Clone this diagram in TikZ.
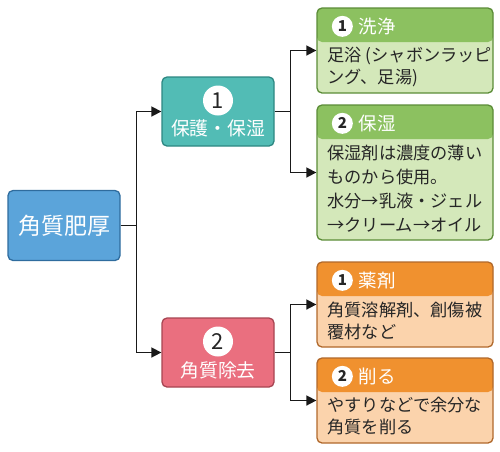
\documentclass[tikz,border=0pt]{standalone}
\usepackage{fontspec}
\setmainfont{Noto Sans CJK JP}
\usetikzlibrary{positioning,arrows.meta,decorations.markings}
\definecolor{rootbl}{HTML}{5BA4DA}
\definecolor{rootln}{HTML}{2F6C9E}
\definecolor{protbl}{HTML}{52BCB5}
\definecolor{protln}{HTML}{2D8782}
\definecolor{rempk}{HTML}{EA6F7F}
\definecolor{remln}{HTML}{A74552}
\definecolor{grnhd}{HTML}{8CC160}
\definecolor{grnbd}{HTML}{D4E8BA}
\definecolor{grnln}{HTML}{5B8C37}
\definecolor{orghd}{HTML}{F0912F}
\definecolor{orgbd}{HTML}{FBD3AC}
\definecolor{orgln}{HTML}{B0682B}
\tikzset{->/.style = {decoration={markings, mark=at position 1 with {\arrow{Triangle[length=10pt,width=10pt]}}}, postaction={decorate}}}
\tikzset{circ/.style = {circle, fill=white, text=black!85, inner sep=0}}

\begin{document}
\begin{tikzpicture}[x=1pt,y=-1pt,
    link/.style={line width=1.6pt, black!90},
    cat/.style={draw, line width=1.3pt, rounded corners=5pt,
        minimum width=112pt, minimum height=69pt, inner sep=0, text=white},
    cattxt/.style={text=white, inner sep=0, font={\fontsize{18.8pt}{22pt}\selectfont}},
    bignum/.style={circ, minimum size=30pt, font={\fontsize{22pt}{24pt}\selectfont}},
    smallnum/.style={circ, minimum size=21pt, font={\fontsize{15pt}{17pt}\selectfont\bfseries}},
    item/.style={draw=#1ln, fill=#1bd, line width=1.3pt, rounded corners=5pt,
        minimum width=176pt, inner sep=0,
        path picture={\fill[#1hd] (path picture bounding box.north west)
            rectangle ([yshift=-34pt]path picture bounding box.north east);}},
    headtxt/.style={text=white, inner sep=0, anchor=west,
        font={\fontsize{18.5pt}{20pt}\selectfont}},
    bodytxt/.style={text=black!85, inner sep=0, anchor=north west, align=left,
        font={\fontsize{17.2pt}{22pt}\selectfont}},
    ]
    \useasboundingbox (0,0) rectangle (500,451);

    % Root
    \node[cat, fill=rootbl, draw=rootln, minimum height=70pt,
        font={\fontsize{23pt}{26pt}\selectfont}] (root) at (64,225.5) {角質肥厚};

    % Categories
    \node[cat, fill=protbl, draw=protln] (prot) at (218,111.5) {};
    \node[bignum] (prot-no) at ([yshift=11pt]prot.center) {1};
    \node[cattxt] (prot-t) at ([yshift=-16.5pt]prot.center) {保護・保湿};

    \node[cat, fill=rempk, draw=remln] (rem) at (218,352.5) {};
    \node[bignum] (rem-no) at ([yshift=11pt]rem.center) {2};
    \node[cattxt] (rem-t) at ([yshift=-17.5pt]rem.center) {角質除去};

    % Green items
    \node[item=grn, minimum height=85pt] (wash) at (405,50.5) {};
    \node[smallnum] (wash-no) at ([xshift=26pt,yshift=-19pt]wash.north west) {1};
    \node[headtxt] (wash-t) at ([xshift=42pt,yshift=-19pt]wash.north west) {洗浄};
    \node[bodytxt] (wash-b) at ([xshift=11pt,yshift=-40pt]wash.north west)
        {足浴 (シャボンラッピ\\ング、足湯)};

    \node[item=grn, minimum height=135pt] (moist) at (405,172.5) {};
    \node[smallnum] (moist-no) at ([xshift=26pt,yshift=-19pt]moist.north west) {2};
    \node[headtxt] (moist-t) at ([xshift=42pt,yshift=-19pt]moist.north west) {保湿};
    \node[bodytxt, font={\fontsize{17.2pt}{24pt}\selectfont}] (moist-b)
        at ([xshift=11pt,yshift=-40pt]moist.north west)
        {保湿剤は濃度の薄い\\ものから使用。\\水分→乳液・ジェル\\→クリーム→オイル};

    % Orange items
    \node[item=org, minimum height=85pt] (drug) at (405,304.5) {};
    \node[smallnum] (drug-no) at ([xshift=26pt,yshift=-19pt]drug.north west) {1};
    \node[headtxt] (drug-t) at ([xshift=42pt,yshift=-19pt]drug.north west) {薬剤};
    \node[bodytxt] (drug-b) at ([xshift=11pt,yshift=-40pt]drug.north west)
        {角質溶解剤、創傷被\\覆材など};

    \node[item=org, minimum height=85pt] (shave) at (405,400.5) {};
    \node[smallnum] (shave-no) at ([xshift=26pt,yshift=-19pt]shave.north west) {2};
    \node[headtxt] (shave-t) at ([xshift=42pt,yshift=-19pt]shave.north west) {削る};
    \node[bodytxt] (shave-b) at ([xshift=11pt,yshift=-40pt]shave.north west)
        {やすりなどで余分な\\角質を削る};

    % Connectors
    \draw[link,->] (root.east) -- ++(16,0) |- (prot.west);
    \draw[link,->] (root.east) -- ++(16,0) |- (rem.west);
    \draw[link,->] (prot.east) -- ++(16,0) |- (wash.west);
    \draw[link,->] (prot.east) -- ++(16,0) |- (moist.west);
    \draw[link,->] (rem.east) -- ++(16,0) |- (drug.west);
    \draw[link,->] (rem.east) -- ++(16,0) |- (shave.west);

\end{tikzpicture}
\end{document}
